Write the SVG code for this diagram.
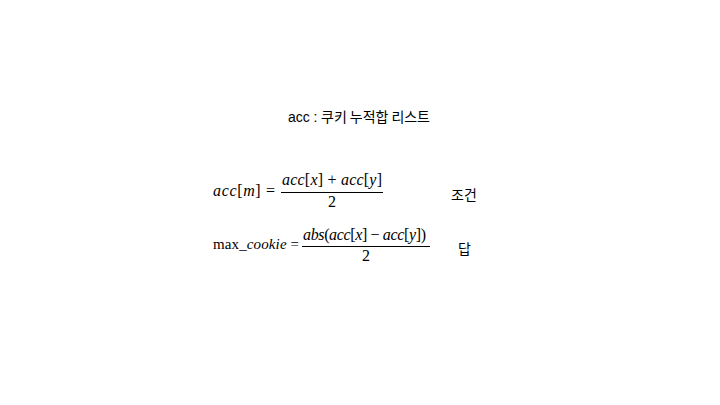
<svg xmlns="http://www.w3.org/2000/svg" width="720" height="405" viewBox="0 0 720 405">
<style>
.t{font-family:"Liberation Sans","Noto Sans CJK KR",sans-serif;font-size:14px;fill:#000}
.m{font-family:"Liberation Serif","DejaVu Serif",serif;font-size:16px;fill:#000}
.i{font-style:italic}
.k{font-family:"Noto Sans CJK KR",sans-serif;font-size:14px;fill:#000}
.bar{stroke:#000;stroke-width:1}
</style>
<rect width="720" height="405" fill="#fff"/>
<g id="title"><text class="t" x="288" y="122" textLength="142" lengthAdjust="spacing">acc : <tspan class="k">쿠키 누적합 리스트</tspan></text></g>
<g id="eq1">
<text class="m" x="213" y="196" textLength="62" lengthAdjust="spacing"><tspan class="i">acc</tspan>[<tspan class="i">m</tspan>] =</text>
<text class="m" x="282" y="185" textLength="100" lengthAdjust="spacing"><tspan class="i">acc</tspan>[<tspan class="i">x</tspan>] + <tspan class="i">acc</tspan>[<tspan class="i">y</tspan>]</text>
<line class="bar" x1="281" y1="192.5" x2="383" y2="192.5"/>
<text class="m" x="332" y="207" text-anchor="middle">2</text>
</g>
<g id="cond"><text class="k" x="451" y="200">조건</text></g>
<g id="eq2">
<text class="m" x="213" y="249" style="font-size:15px" textLength="86" lengthAdjust="spacing">max_<tspan class="i">cookie</tspan> =</text>
<text class="m" x="303" y="240" textLength="123" lengthAdjust="spacing"><tspan class="i">abs</tspan>(<tspan class="i">acc</tspan>[<tspan class="i">x</tspan>] − <tspan class="i">acc</tspan>[<tspan class="i">y</tspan>])</text>
<line class="bar" x1="302" y1="246.5" x2="430" y2="246.5"/>
<text class="m" x="366" y="261" text-anchor="middle">2</text>
</g>
<g id="ans"><text class="k" x="458" y="254">답</text></g>
</svg>
